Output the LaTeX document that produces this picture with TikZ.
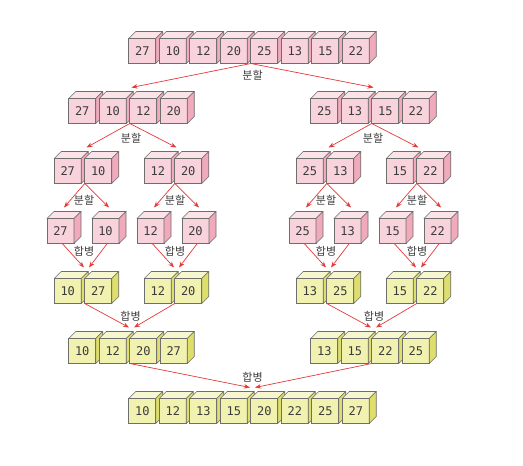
\documentclass[tikz,border=0pt]{standalone}
\usepackage{fontspec}
\setmonofont{DejaVu Sans Mono}
\newfontfamily\kofont{Noto Sans CJK KR}
\usetikzlibrary{arrows.meta,calc}

\definecolor{pinkfront}{HTML}{F9D3DB}
\definecolor{pinktop}{HTML}{FBE3E8}
\definecolor{pinkside}{HTML}{F0AABB}
\definecolor{yellowfront}{HTML}{F1F1B0}
\definecolor{yellowtop}{HTML}{F7F7CF}
\definecolor{yellowside}{HTML}{DEDE6C}
\definecolor{cubeedge}{HTML}{6E6E6E}
\definecolor{arrowred}{HTML}{E53A3A}
\definecolor{labelgray}{HTML}{3C3C3C}

\def\pitch{30.5}
\def\depth{7}

% one row of cubes: name, x of first cube, y, numbers, colour
\newcommand{\cuberow}[5]{%
	\foreach \v [count=\i] in {#4} {
		\node[cubefront=#5] (#1-\i) at ({#2+(\i-1)*\pitch},#3) {\v};
		\draw[cubeface=#5top] (#1-\i.north west) -- ++(\depth,-\depth) -- ++(27,0) -- (#1-\i.north east) -- cycle;
		\draw[cubeface=#5side] (#1-\i.north east) -- ++(\depth,-\depth) -- ++(0,25) -- (#1-\i.south east) -- cycle;
	}
}

\begin{document}
\begin{tikzpicture}[x=1pt,y=-1pt,
	cubefront/.style={draw=cubeedge,line width=0.6pt,fill=#1front,minimum width=27pt,minimum height=25pt,
		inner sep=0pt,outer sep=0pt,text=labelgray,font=\ttfamily\fontsize{12}{12}\selectfont},
	cubeface/.style={draw=cubeedge,line width=0.6pt,fill=#1,line join=round},
	link/.style={draw=arrowred,line width=0.7pt,-{Stealth[length=6pt,width=4.5pt]}},
	steplabel/.style={text=labelgray,inner sep=1pt,font=\kofont\fontsize{11}{11}\selectfont}]

	\fill[white] (0,0) rectangle (523,466);
	\useasboundingbox (0,0) rectangle (523,466);

	%\draw[help lines,step=10] (0,0) grid (523,466);

	% split
	\cuberow{s0}{142.25}{51}{27,10,12,20,25,13,15,22}{pink}
	\cuberow{s1a}{82.25}{111}{27,10,12,20}{pink}
	\cuberow{s1b}{324.25}{111}{25,13,15,22}{pink}
	\cuberow{s2a}{67.75}{171}{27,10}{pink}
	\cuberow{s2b}{157.75}{171}{12,20}{pink}
	\cuberow{s2c}{309.75}{171}{25,13}{pink}
	\cuberow{s2d}{399.75}{171}{15,22}{pink}
	\foreach \g/\x/\num in {a/60.5/27,b/105.5/10,c/150.5/12,d/195.5/20,e/302.5/25,f/347.5/13,g/392.5/15,h/437.5/22} {
		\cuberow{s3\g}{\x}{231}{\num}{pink}
	}

	% merge
	\cuberow{m2a}{67.75}{291}{10,27}{yellow}
	\cuberow{m2b}{157.75}{291}{12,20}{yellow}
	\cuberow{m2c}{309.75}{291}{13,25}{yellow}
	\cuberow{m2d}{399.75}{291}{15,22}{yellow}
	\cuberow{m1a}{82.25}{351}{10,12,20,27}{yellow}
	\cuberow{m1b}{324.25}{351}{13,15,22,25}{yellow}
	\cuberow{m0}{142.25}{411}{10,12,13,15,20,22,25,27}{yellow}

	% in and out points of every group
	\foreach \g/\a/\b in {s0/4/5,s1a/2/3,s1b/2/3,s2a/1/2,s2b/1/2,s2c/1/2,s2d/1/2,
		s3a/1/1,s3b/1/1,s3c/1/1,s3d/1/1,s3e/1/1,s3f/1/1,s3g/1/1,s3h/1/1,
		m2a/1/2,m2b/1/2,m2c/1/2,m2d/1/2,m1a/2/3,m1b/2/3,m0/4/5} {
		\coordinate (\g-mid) at ($(\g-\a)!.5!(\g-\b)$);
		\coordinate (\g-in) at ($(\g-mid)+(3.5,-23.5)$);
		\coordinate (\g-out) at ($(\g-mid)+(1.75,12.5)$);
	}

	\foreach \from/\to in {s0/s1a,s0/s1b,s1a/s2a,s1a/s2b,s1b/s2c,s1b/s2d,
		s2a/s3a,s2a/s3b,s2b/s3c,s2b/s3d,s2c/s3e,s2c/s3f,s2d/s3g,s2d/s3h}
		\draw[link] (\from-out) -- (\to-in);

	\foreach \from/\to/\dx in {s3a/m2a/-2.5,s3b/m2a/2.5,s3c/m2b/-2.5,s3d/m2b/2.5,
		s3e/m2c/-2.5,s3f/m2c/2.5,s3g/m2d/-2.5,s3h/m2d/2.5,
		m2a/m1a/-2.5,m2b/m1a/2.5,m2c/m1b/-2.5,m2d/m1b/2.5,m1a/m0/-2.5,m1b/m0/2.5}
		\draw[link] (\from-out) -- ($(\to-in)+(\dx,0)$);

	% labels
	\node[steplabel] (split0) at (252.5,75) {분할};
	\node[steplabel] (split1a) at (131,138) {분할};
	\node[steplabel] (split1b) at (373,138) {분할};
	\foreach \g/\x in {a/84,b/175,c/326,d/417} {
		\node[steplabel] (split2\g) at (\x,200) {분할};
		\node[steplabel] (merge2\g) at (\x,251) {합병};
	}
	\node[steplabel] (merge1a) at (130.5,316) {합병};
	\node[steplabel] (merge1b) at (374,316) {합병};
	\node[steplabel] (merge0) at (252.5,377) {합병};

\end{tikzpicture}
\end{document}
